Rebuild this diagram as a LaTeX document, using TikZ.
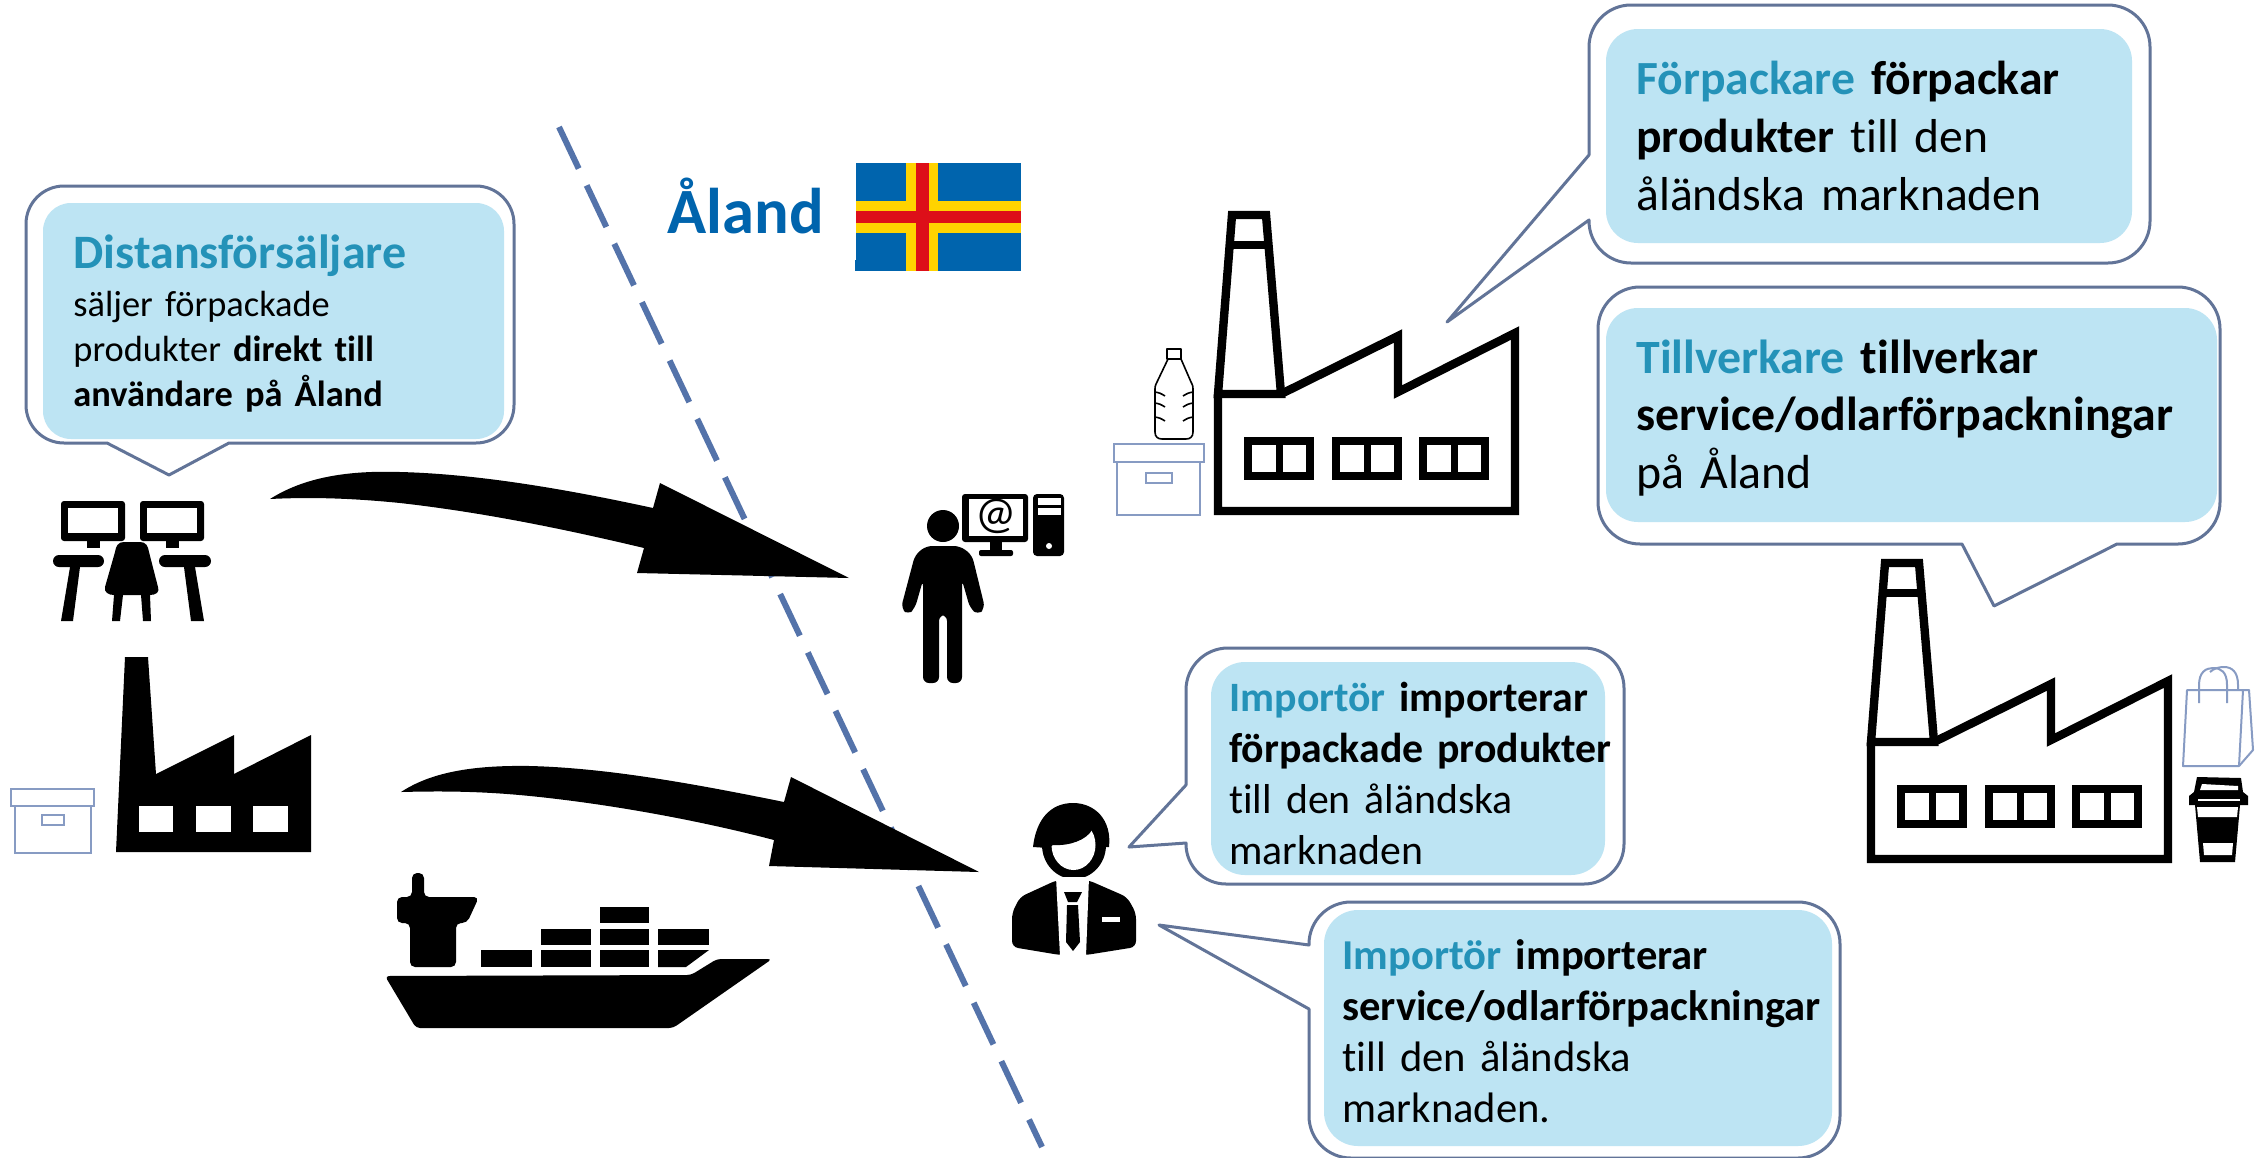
\documentclass[tikz,border=0pt]{standalone}
\usepackage{fontspec}
\setmainfont[WordSpace=0.8,Ligatures=NoCommon]{Carlito}
\definecolor{bubblefillc}{RGB}{189,228,243}
\definecolor{bubbleline}{RGB}{98,116,152}
\definecolor{headc}{RGB}{36,146,184}
\definecolor{alandblue}{RGB}{0,100,173}
\definecolor{flagyellow}{RGB}{255,211,0}
\definecolor{flagred}{RGB}{221,15,25}
\definecolor{iconline}{RGB}{135,155,195}
\definecolor{dashc}{RGB}{84,115,170}
\newcommand{\hd}[1]{\textbf{\textcolor{headc}{#1}}}
\newcommand{\outlinefactory}[1]{%
  \begin{scope}[shift={(#1)}]
    \draw[factoryline] (1232,215) -- (1266,215) -- (1281,394) -- (1218,394) -- cycle;
    \draw[factoryline] (1218,394) -- (1218,511) -- (1515,511) -- (1515,333) -- (1398,392) -- (1398,336) -- (1281,394);
    \draw[factoryline] (1231,245) -- (1268,245);
    \foreach \wx in {1248,1336,1423}{
      \draw[factoryline] (\wx,441) rectangle ++(62,35);
      \draw[factoryline,line width=3.5pt] ({\wx+31},441) -- ++(0,35);
    }
  \end{scope}}
\tikzset{
  bubble/.style={draw=bubbleline,line width=1.5pt,fill=white,line join=round},
  bubblein/.style={fill=bubblefillc},
  bubbletext/.style={anchor=base west,inner sep=0pt,text width=#1,align=left,text=black},
  factoryline/.style={draw=black,line width=4.2pt,line join=miter},
  iconthin/.style={draw=iconline,line width=1pt},
}
\begin{document}
\begin{tikzpicture}[x=0.5pt,y=-0.5pt]
\useasboundingbox (0,0) rectangle (2258,1157);
\fill[white] (0,0) rectangle (2258,1157);

% dashed border line
\draw[dashc,line width=3pt,dash pattern=on 23pt off 9.3pt] (559,127) -- (1042,1147);

% arrows
\fill[black] (270,499) .. controls (300,480) and (340,470) .. (400,472)
  .. controls (480,474) and (570,490) .. (653,508) -- (660,483) -- (849,578) -- (637,573) -- (644,548)
  .. controls (560,528) and (480,512) .. (400,503) .. controls (350,498) and (310,497) .. (270,499) -- cycle;
\fill[black] (401,792) .. controls (430,773) and (470,765) .. (530,766)
  .. controls (610,768) and (700,785) .. (784,802) -- (791,777) -- (979,872) -- (769,866) -- (774,840)
  .. controls (690,818) and (600,803) .. (530,796) .. controls (480,791) and (440,791) .. (401,792) -- cycle;

% desk icon
\begin{scope}
  \foreach \mx in {61,140}{
    \fill[black,rounded corners=1.5pt] (\mx,501) rectangle ++(64,40);
    \fill[white] ({\mx+7},508) rectangle ++(50,25);
    \fill[black] ({\mx+26},541) rectangle ++(13,7);
  }
  \fill[black,rounded corners=3pt] (53,555) rectangle (104,567);
  \fill[black,rounded corners=3pt] (159,555) rectangle (211,567);
  \fill[black] (70,567) -- (80,567) -- (73,621) -- (61,621) -- cycle;
  \fill[black] (184,567) -- (195,567) -- (204,621) -- (191,621) -- cycle;
  \fill[black] (124,542) .. controls (118,542) and (116,546) .. (115,552) -- (105,587)
    .. controls (104,592) and (108,595) .. (114,595) -- (150,595)
    .. controls (156,595) and (160,592) .. (158,587) -- (149,552)
    .. controls (148,546) and (146,542) .. (140,542) -- cycle;
  \fill[black] (114,595) -- (123,595) -- (120,621) -- (112,621) -- cycle;
  \fill[black] (141,595) -- (150,595) -- (151,621) -- (143,621) -- cycle;
\end{scope}

% black factory and box
\fill[black] (125,657) -- (148,657) -- (156,774) -- (234,735) -- (234,774) -- (311,735) -- (311,852) -- (116,852) -- cycle;
\foreach \wx/\ww in {139/34,196/35,253/35}{
  \fill[white] (\wx,806) rectangle ++(\ww,26);
}
\draw[iconthin] (11,789) rectangle (94,806);
\draw[iconthin] (15,806) rectangle (91,853);
\draw[iconthin] (42,815) rectangle (64,825);

% ship
\fill[black,rounded corners=2pt] (385,976) -- (691,975) -- (717,959) -- (772,959) -- (673,1028) -- (416,1028) -- cycle;
\fill[black,rounded corners=2.5pt] (412,897) -- (412,873) -- (424,873) -- (424,897) -- (479,897) -- (467,923) -- (456,923) -- (456,967) -- (410,967) -- (410,923) -- (397,923) -- (397,897) -- cycle;
\fill[black] (481,950) rectangle (532,967);
\fill[black] (541,950) rectangle (591,967);
\fill[black] (600,950) rectangle (649,967);
\fill[black] (658,950) -- (709,950) -- (686,967) -- (658,967) -- cycle;
\fill[black] (541,929) rectangle (591,945);
\fill[black] (600,929) rectangle (649,945);
\fill[black] (658,929) rectangle (709,945);
\fill[black] (600,907) rectangle (649,923);

% Aland label and flag
\node[anchor=base west,inner sep=0pt,text=alandblue,font=\bfseries\fontsize{32.3}{38}\selectfont] (aland) at (667,233) {Åland};
\fill[alandblue] (856,163) rectangle (1021,271);
\fill[alandblue] (855,260) rectangle (857,271);
\fill[flagyellow] (906,163) rectangle (938,271);
\fill[flagyellow] (856,201) rectangle (1021,233);
\fill[flagred] (916,163) rectangle (929,271);
\fill[flagred] (856,211) rectangle (1021,223);

% person with computer
\fill[black] (943,526) circle (8pt);
\fill[black,rounded corners=1.5pt] (962,494) rectangle (1028,542);
\fill[white] (969,499) rectangle (1023,536);
\node[inner sep=0pt,font=\fontsize{23}{26}\selectfont] (atsign) at (996,516) {@};
\fill[black] (990,542) rectangle (1002,550);
\fill[black,rounded corners=1pt] (979,550) rectangle (1013,556);
\fill[black,rounded corners=2pt] (1033,494) rectangle (1064,556);
\fill[white] (1038,498) rectangle (1061,505);
\fill[white] (1038,508) rectangle (1061,515);
\fill[white] (1049,546) circle (1.5pt);
\fill[black,rounded corners=3pt] (926,546) -- (960,546) -- (972,555) -- (985,608) -- (978,615) -- (970,608) -- (962,580) -- (962,683) -- (947,683) -- (947,615) -- (939,615) -- (939,683) -- (923,683) -- (923,580) -- (915,608) -- (908,615) -- (901,608) -- (915,555) -- cycle;

% businessman
\fill[black] (1074,845) ellipse (16pt and 17pt);
\fill[white] (1073.5,845) ellipse (11pt and 12.5pt);
\fill[black,rounded corners=3pt] (1057,880) -- (1020,897) -- (1012,913) -- (1012,947) -- (1060,955) -- (1086,955) -- (1136,947) -- (1136,913) -- (1127,897) -- (1088,880) -- cycle;
\fill[white] (1056,877) -- (1089,877) -- (1086,956) -- (1060,956) -- cycle;
\fill[black] (1033,847) .. controls (1036,820) and (1050,803) .. (1073,803) .. controls (1095,803) and (1112,820) .. (1109,847) -- (1097,847) .. controls (1099,838) and (1096,830) .. (1092,830) .. controls (1086,840) and (1070,846) .. (1053,845) -- (1048,848) -- cycle;
\fill[black] (1064,892) -- (1082,892) -- (1077,902) -- (1068,902) -- cycle;
\fill[black] (1067,905) -- (1078,905) -- (1080,942) -- (1073,951) -- (1066,942) -- cycle;
\fill[white] (1102,917) rectangle (1120,922);

% outline factories
\outlinefactory{0,0}
\outlinefactory{653,348}

% bottle and box
\draw[black,line width=0.8pt,line join=round] (1167,349) rectangle (1181,359);
\draw[black,line width=0.8pt,line join=round] (1168,359) -- (1157,382) .. controls (1155,386) .. (1155,392) -- (1155,432) .. controls (1155,437) and (1158,439) .. (1162,439) -- (1186,439) .. controls (1190,439) and (1193,437) .. (1193,432) -- (1193,392) .. controls (1193,386) .. (1191,382) -- (1181,359);
\foreach \ry in {392,403,417}{
  \draw[black,line width=0.8pt] (1155,\ry) .. controls (1160,\ry+1) .. (1165,\ry+4);
  \draw[black,line width=0.8pt] (1193,\ry) .. controls (1188,\ry+1) .. (1183,\ry+4);
}
\draw[iconthin] (1114,444) rectangle (1204,462);
\draw[iconthin] (1117,462) rectangle (1200,515);
\draw[iconthin] (1146,473) rectangle (1172,483);

% bag
\draw[iconthin,line join=round] (2187,690) -- (2243,690) -- (2239,766) -- (2183,766) -- cycle;
\draw[iconthin,line join=round] (2243,690) -- (2249,690) -- (2253,750) -- (2239,766);
\draw[iconthin] (2199,703) -- (2199,685) .. controls (2199,672) and (2206,668) .. (2213,668) .. controls (2221,668) and (2227,672) .. (2227,685) -- (2227,703);
\draw[iconthin] (2210,672) .. controls (2214,668) and (2220,667) .. (2224,667) .. controls (2232,667) and (2238,672) .. (2238,685) -- (2238,690);

% cup
\fill[black] (2197,777) -- (2241,778) -- (2243,792) -- (2248,796) -- (2248,805) -- (2240,805) -- (2235,862) -- (2200,862) -- (2195,805) -- (2189,805) -- (2189,796) -- (2194,792) -- cycle;
\fill[white] (2202,784) -- (2238,786) -- (2238,790) -- (2200,790) -- cycle;
\fill[white] (2198,799) rectangle (2240,801);
\fill[white] (2197,807) -- (2238,807) -- (2237,817) -- (2198,817) -- cycle;
\fill[white] (2203,843) -- (2233,843) -- (2232,855) -- (2204,855) -- cycle;

% callout: Distansforsaljare
\draw[bubble,rounded corners=19pt] (270,186) -- (514,186) -- (514,443) [sharp corners] -- (229,443) -- (169,475) -- (107,443) [rounded corners=19pt] -- (26,443) -- (26,186) -- cycle;
\fill[bubblein,rounded corners=14pt] (43,203) rectangle (504,439);
\node[bubbletext=260pt,font=\fontsize{18.2}{22.5}\selectfont] (distans) at (73,268)
  {\fontsize{24}{22.5}\selectfont\hd{Distansförsäljare}\\[1.5pt]
   \fontsize{18.2}{22.5}\selectfont säljer förpackade\\ produkter \textbf{direkt till}\\ \textbf{användare på Åland}};

% callout: Forpackare
\draw[bubble,rounded corners=21pt] (1850,5) -- (2150,5) -- (2150,263) -- (1589,263) [sharp corners] -- (1589,220) -- (1447,322) -- (1589,155) [rounded corners=21pt] -- (1589,5) -- cycle;
\fill[bubblein,rounded corners=16pt] (1606,29) rectangle (2132,243);
\node[bubbletext=300pt,font=\fontsize{23.8}{29}\selectfont] (forpackare) at (1636,94)
  {\hd{Förpackare} \textbf{förpackar}\\ \textbf{produkter} till den\\ åländska marknaden};

% callout: Tillverkare
\draw[bubble,rounded corners=21pt] (1900,287) -- (2220,287) -- (2220,544) [sharp corners] -- (2117,544) -- (1994,606) -- (1962,544) [rounded corners=21pt] -- (1598,544) -- (1598,287) -- cycle;
\fill[bubblein,rounded corners=16pt] (1606,308) rectangle (2217,522);
\node[bubbletext=300pt,font=\fontsize{23.9}{28.7}\selectfont] (tillverkare) at (1636,373.5)
  {\hd{Tillverkare} \textbf{tillverkar}\\ \textbf{service/odlarförpackningar}\\ på Åland};

% callout: Importor 1
\draw[bubble,rounded corners=20pt] (1400,648) -- (1624,648) -- (1624,884) -- (1186,884) [sharp corners] -- (1186,843) -- (1129,847) -- (1186,785) [rounded corners=21pt] -- (1186,648) -- cycle;
\fill[bubblein,rounded corners=17pt] (1211,662) rectangle (1605,875);
\node[bubbletext=240pt,font=\fontsize{20.9}{25.5}\selectfont] (importor1) at (1229,711)
  {\hd{Importör} \textbf{importerar}\\ \textbf{förpackade produkter}\\ till den åländska\\ marknaden};

% callout: Importor 2
\draw[bubble,rounded corners=21pt] (1600,902) -- (1840,902) -- (1840,1158) -- (1309,1158) [sharp corners] -- (1309,1009) -- (1159,925) -- (1309,945) [rounded corners=21pt] -- (1309,902) -- cycle;
\fill[bubblein,rounded corners=17pt] (1324,910) rectangle (1832,1146);
\node[bubbletext=270pt,font=\fontsize{21.3}{25.5}\selectfont] (importor2) at (1342,969)
  {\hd{Importör} \textbf{importerar}\\ \textbf{service/odlarförpackningar}\\ till den åländska\\ marknaden.};
\end{tikzpicture}
\end{document}
